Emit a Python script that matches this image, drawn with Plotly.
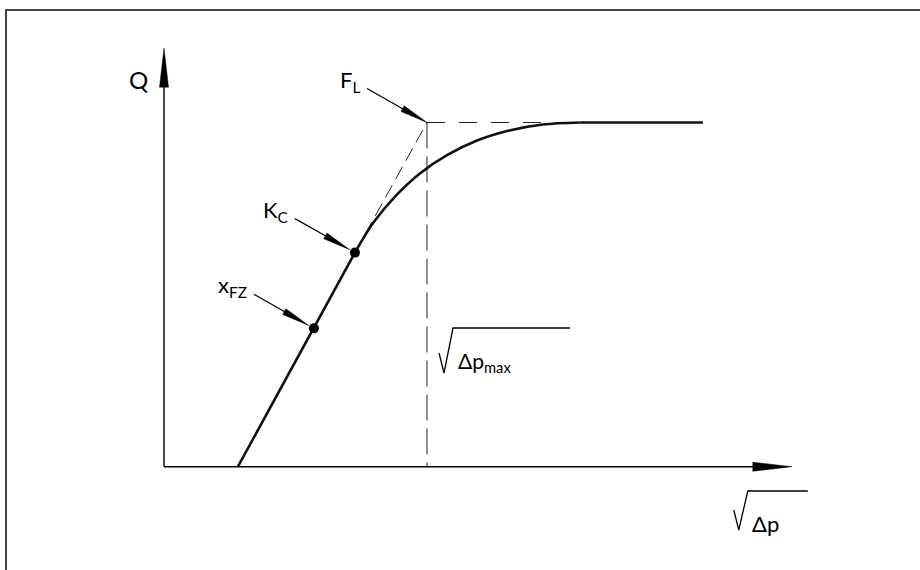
import numpy as np
import plotly.graph_objects as go

# Canvas
W, H = 920, 570
X_RANGE = [-0.6236, 2.8745]
Y_RANGE = [-0.3001, 1.3559]

# Flow characteristic Q over sqrt(dp): straight rise, bend, choked plateau
ONSET_X = 0.281
XFZ_POINT = (0.570, 0.402)
KC_POINT = (0.726, 0.622)
FL_POINT = (1.0, 1.0)
BEND_X = [0.726, 0.797, 0.881, 0.973, 1.076, 1.188, 1.309, 1.44, 1.58]
BEND_Y = [0.622, 0.710, 0.787, 0.852, 0.905, 0.947, 0.976, 0.994, 1.0]
PLATEAU_END_X = 2.049
X_AXIS_END = 2.387
Y_AXIS_END = 1.216

FONT = "Lato"

sx = W / (X_RANGE[1] - X_RANGE[0])
sy = H / (Y_RANGE[1] - Y_RANGE[0])


def to_px(x, y):
    return np.array([(x - X_RANGE[0]) * sx, H - (y - Y_RANGE[0]) * sy])


def to_data(p):
    return p[0] / sx + X_RANGE[0], (H - p[1]) / sy + Y_RANGE[0]


def head(tip_px, direction, length, width):
    d = np.asarray(direction, float)
    d = d / np.linalg.norm(d)
    n = np.array([-d[1], d[0]])
    base = tip_px - d * length
    pts = [tip_px, base + n * width / 2, base - n * width / 2, tip_px]
    xs, ys = zip(*[to_data(p) for p in pts])
    return list(xs), list(ys)


def paper(xpx, ypx):
    return xpx / W, 1 - ypx / H


fig = go.Figure()

line_black = dict(color="black")

# Axes with long narrow arrowheads
ox, oy = 0.0, 0.0
fig.add_trace(go.Scatter(x=[ox, X_AXIS_END - 20 / sx], y=[oy, oy], mode="lines",
                         line=dict(color="black", width=1.4), hoverinfo="skip"))
fig.add_trace(go.Scatter(x=[ox, ox], y=[oy, Y_AXIS_END - 20 / sy], mode="lines",
                         line=dict(color="black", width=1.4), hoverinfo="skip"))
hx, hy = head(to_px(X_AXIS_END, oy), (1, 0), 39, 9)
fig.add_trace(go.Scatter(x=hx, y=hy, mode="lines", fill="toself", fillcolor="black",
                         line=dict(color="black", width=0.5), hoverinfo="skip"))
hx, hy = head(to_px(ox, Y_AXIS_END), (0, -1), 39, 9)
fig.add_trace(go.Scatter(x=hx, y=hy, mode="lines", fill="toself", fillcolor="black",
                         line=dict(color="black", width=0.5), hoverinfo="skip"))

# Dashed construction lines
dash_style = dict(color="#222", width=1)
fig.add_trace(go.Scatter(x=[KC_POINT[0], FL_POINT[0]], y=[KC_POINT[1], FL_POINT[1]],
                         mode="lines", line=dict(**dash_style, dash="14px,7px"), hoverinfo="skip"))
fig.add_trace(go.Scatter(x=[FL_POINT[0], BEND_X[-1]], y=[FL_POINT[1], FL_POINT[1]],
                         mode="lines", line=dict(**dash_style, dash="18px,14px"), hoverinfo="skip"))
fig.add_trace(go.Scatter(x=[FL_POINT[0], FL_POINT[0]], y=[FL_POINT[1], 0],
                         mode="lines", line=dict(**dash_style, dash="26px,8px"), hoverinfo="skip"))

# Characteristic curve
fig.add_trace(go.Scatter(x=[ONSET_X, KC_POINT[0]], y=[0, KC_POINT[1]], mode="lines",
                         line=dict(color="#111", width=2.6), hoverinfo="skip"))
fig.add_trace(go.Scatter(x=BEND_X, y=BEND_Y, mode="lines",
                         line=dict(color="#111", width=2.6, shape="spline"), hoverinfo="skip"))
fig.add_trace(go.Scatter(x=[BEND_X[-1], PLATEAU_END_X], y=[BEND_Y[-1], BEND_Y[-1]], mode="lines",
                         line=dict(color="#111", width=2.6), hoverinfo="skip"))

# Marked points
fig.add_trace(go.Scatter(x=[XFZ_POINT[0], KC_POINT[0]], y=[XFZ_POINT[1], KC_POINT[1]],
                         mode="markers", marker=dict(color="black", size=10), hoverinfo="skip"))

# Leader arrows with labels
LEADER_OFFSET = np.array([-60.0, -34.0])
leaders = [
    (FL_POINT, 0.0, "F<sub>L</sub>"),
    (KC_POINT, 6.0, "K<sub>C</sub>"),
    (XFZ_POINT, 6.0, "x<sub>FZ</sub>"),
]
annotations = []
for (tx, ty), gap, label in leaders:
    target = to_px(tx, ty)
    start = target + LEADER_OFFSET
    d = target - start
    d = d / np.linalg.norm(d)
    tip = target - d * gap
    base = tip - d * 26
    sx0, sy0 = to_data(start)
    bx, by = to_data(base)
    fig.add_trace(go.Scatter(x=[sx0, bx], y=[sy0, by], mode="lines",
                             line=dict(color="black", width=1.2), hoverinfo="skip"))
    hx, hy = head(tip, d, 28, 6.5)
    fig.add_trace(go.Scatter(x=hx, y=hy, mode="lines", fill="toself", fillcolor="black",
                             line=dict(color="black", width=0.5), hoverinfo="skip"))
    annotations.append(dict(x=sx0, y=sy0, xref="x", yref="y", text=label, showarrow=False,
                            xanchor="right", yanchor="middle", xshift=-5, yshift=8,
                            font=dict(family=FONT, size=22, color="black")))

# Axis label Q
annotations.append(dict(x=ox, y=Y_AXIS_END, xref="x", yref="y", text="Q", showarrow=False,
                        xanchor="right", yanchor="middle", xshift=-14, yshift=-31,
                        font=dict(family=FONT, size=24, color="black")))

shapes = []


def radical(x0, y0, top, right):
    # x0,y0: start of the short stroke (pixels); top: overline height; right: overline end
    pts = [(x0, y0), (x0 + 5, y0 + 20), (x0 + 14, top), (right, top)]
    path = "M " + " L ".join(f"{paper(px, py)[0]:.5f},{paper(px, py)[1]:.5f}" for px, py in pts)
    return dict(type="path", path=path, xref="paper", yref="paper",
                line=dict(color="black", width=1.3))


# sqrt(dp_max) next to the vertical dashed line
fl_px = to_px(FL_POINT[0], 0)
shapes.append(radical(fl_px[0] + 12, 353, 328, fl_px[0] + 143))
annotations.append(dict(x=paper(fl_px[0] + 29, 0)[0], y=paper(0, 362)[1], xref="paper", yref="paper",
                        text="Δp<sub>max</sub>", showarrow=False, xanchor="left", yanchor="middle",
                        font=dict(family=FONT, size=21, color="black")))

# sqrt(dp) under the abscissa arrow
xa_px = to_px(X_AXIS_END, 0)
shapes.append(radical(xa_px[0] - 58, 510, 491, xa_px[0] + 16))
annotations.append(dict(x=paper(xa_px[0] - 42, 0)[0], y=paper(0, 523)[1], xref="paper", yref="paper",
                        text="Δp", showarrow=False, xanchor="left", yanchor="middle",
                        font=dict(family=FONT, size=22, color="black")))

# Frame
shapes.append(dict(type="path", path=f"M {6/W:.5f},0 L {6/W:.5f},{1-10/H:.5f} L 1,{1-10/H:.5f}",
                   xref="paper", yref="paper", line=dict(color="#444", width=2)))

fig.update_layout(
    width=W, height=H, autosize=False,
    margin=dict(l=0, r=0, t=0, b=0),
    paper_bgcolor="white", plot_bgcolor="white",
    showlegend=False,
    xaxis=dict(range=X_RANGE, visible=False, fixedrange=True),
    yaxis=dict(range=Y_RANGE, visible=False, fixedrange=True),
    annotations=annotations,
    shapes=shapes,
)

fig.write_html("out.html")
